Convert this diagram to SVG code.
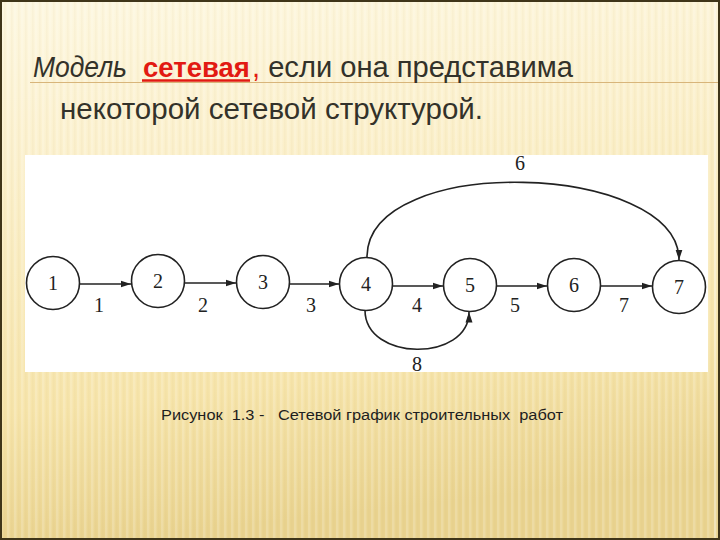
<svg xmlns="http://www.w3.org/2000/svg" width="720" height="540" viewBox="0 0 720 540">
  <defs>
    <linearGradient id="bg" x1="0" y1="0" x2="0.15" y2="1">
      <stop offset="0" stop-color="#fdf7e0"/>
      <stop offset="0.3" stop-color="#fbf0cc"/>
      <stop offset="0.75" stop-color="#f6e4aa"/>
      <stop offset="1" stop-color="#e9d38f"/>
    </linearGradient>
    <pattern id="stripes" width="7" height="540" patternUnits="userSpaceOnUse">
      <rect x="0" y="0" width="2.5" height="540" fill="#ffffff" opacity="0.18"/>
      <rect x="4" y="0" width="1.5" height="540" fill="#c8a860" opacity="0.06"/>
    </pattern>
    <marker id="arr" markerWidth="11" markerHeight="8" refX="10.5" refY="4" orient="auto" markerUnits="userSpaceOnUse">
      <path d="M0,0.5 L10.5,4 L0,7.5 z" fill="#222"/>
    </marker>
    <style>
      .node circle { fill: #ffffff; stroke: #222; stroke-width: 1.6; }
      .node text, .elabel { font-family: "Liberation Serif", "Times New Roman", serif; font-size: 20px; fill: #222; text-anchor: middle; }
      .edge { fill: none; stroke: #222; stroke-width: 1.6; marker-end: url(#arr); }
      .title { font-family: "Liberation Sans", Arial, sans-serif; font-size: 30px; fill: #33322a; }
      .red { fill: #e21a12; }
      .cap { font-family: "Liberation Sans", Arial, sans-serif; font-size: 14px; fill: #1e1e1e; white-space: pre; }
    </style>
  </defs>

  <!-- background -->
  <rect x="0" y="0" width="720" height="540" fill="url(#bg)"/>
  <rect x="0" y="0" width="720" height="540" fill="url(#stripes)"/>
  <line x1="715" y1="2" x2="715" y2="538" stroke="#ffffff" stroke-opacity="0.5" stroke-width="1"/>
  <rect x="1" y="1" width="718" height="538" fill="none" stroke="#3f3519" stroke-width="2"/>

  <!-- title -->
  <line x1="30" y1="82.5" x2="718" y2="82.5" stroke="#d8b57a" stroke-width="1.2"/>
  <text class="title" x="33" y="77" font-style="italic" textLength="94" lengthAdjust="spacingAndGlyphs">Модель</text>
  <text class="title red" x="143" y="77" font-weight="bold" style="font-size:27.5px">сетевая</text>
  <line x1="142" y1="80.5" x2="250" y2="80.5" stroke="#e21a12" stroke-width="2.5"/>
  <text class="title" x="252" y="77" textLength="321" lengthAdjust="spacingAndGlyphs"><tspan class="red">,</tspan> если она представима</text>
  <text class="title" x="60" y="119" textLength="423" lengthAdjust="spacingAndGlyphs">некоторой сетевой структурой.</text>

  <!-- white panel -->
  <rect x="25" y="155" width="683" height="217" fill="#ffffff"/>

  <!-- connectors -->
  <g id="connectors">
    <line class="edge" x1="80" y1="284" x2="131" y2="284"/>
    <line class="edge" x1="185" y1="283" x2="236" y2="283"/>
    <line class="edge" x1="290" y1="284" x2="339" y2="284"/>
    <line class="edge" x1="393" y1="286" x2="443" y2="286"/>
    <line class="edge" x1="497" y1="286" x2="547" y2="286"/>
    <line class="edge" x1="601" y1="286" x2="652" y2="286"/>
    <path class="edge" d="M367,257 C367,152 679,162 679,260"/>
    <path class="edge" d="M365,310 C365,362 469,362 469,312"/>
    <text class="elabel" x="99" y="312">1</text>
    <text class="elabel" x="203" y="312">2</text>
    <text class="elabel" x="311" y="312">3</text>
    <text class="elabel" x="417" y="312">4</text>
    <text class="elabel" x="515" y="312">5</text>
    <text class="elabel" x="520" y="170">6</text>
    <text class="elabel" x="624" y="312">7</text>
    <text class="elabel" x="417" y="371">8</text>
  </g>

  <!-- nodes -->
  <g id="n1" class="node"><circle cx="53" cy="283" r="26.5"/><text x="53" y="290">1</text></g>
  <g id="n2" class="node"><circle cx="158" cy="281" r="26.5"/><text x="158" y="288">2</text></g>
  <g id="n3" class="node"><circle cx="263" cy="282" r="26.5"/><text x="263" y="289">3</text></g>
  <g id="n4" class="node"><circle cx="366" cy="284" r="26.5"/><text x="366" y="291">4</text></g>
  <g id="n5" class="node"><circle cx="470" cy="285" r="26.5"/><text x="470" y="292">5</text></g>
  <g id="n6" class="node"><circle cx="574" cy="285" r="26.5"/><text x="574" y="292">6</text></g>
  <g id="n7" class="node"><circle cx="679" cy="287" r="26.5"/><text x="679" y="294">7</text></g>

  <!-- caption -->
  <text class="cap" x="161" y="420" textLength="402" lengthAdjust="spacingAndGlyphs">Рисунок  1.3 -   Сетевой график строительных  работ</text>
</svg>
